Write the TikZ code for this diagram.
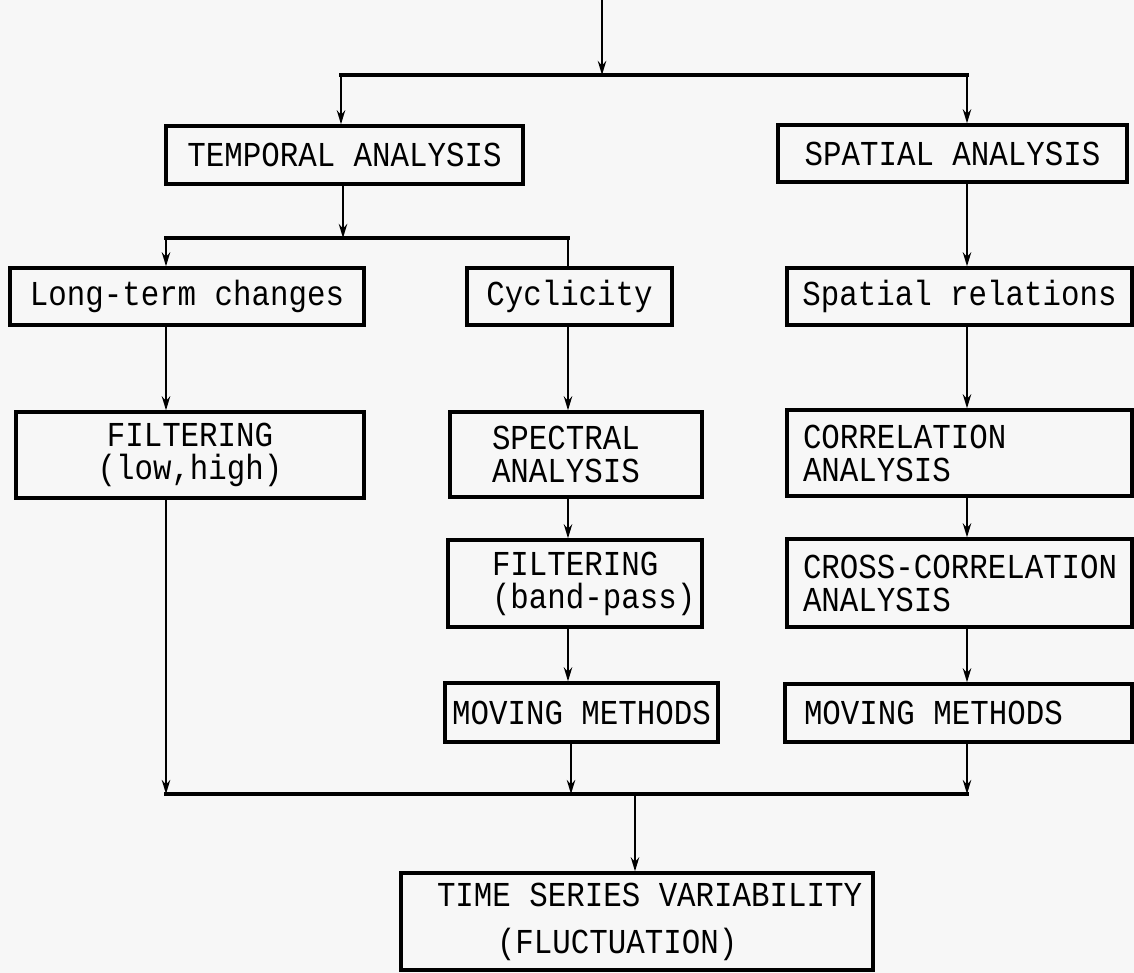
\documentclass[tikz,border=0pt]{standalone}
\usepackage{fontspec}
\setmonofont{Liberation Mono}[FakeStretch=0.88]
\usetikzlibrary{arrows.meta}
\definecolor{paper}{RGB}{247,247,247}
\newcommand\msp{\hphantom{X}}
\tikzset{
  boxnode/.style={draw, line width=1.7pt, inner xsep=0pt, inner ysep=0pt, fill=paper,
    font=\ttfamily\fontsize{17.5}{16.5}\selectfont},
  conn/.style={line width=1.1pt},
  arr/.style={conn, -{Stealth[length=7pt,width=4.2pt]}},
  busline/.style={line width=2.2pt, line cap=rect}
}
\begin{document}
\begin{tikzpicture}[x=0.5pt,y=-0.5pt]
\fill[paper] (0,0) rectangle (1134,973);
\useasboundingbox (0,0) rectangle (1134,973);
% boxes
\node[boxnode, text width=178.5pt, minimum height=29pt, align=center] (temporal) at (344.5,155) {TEMPORAL\msp ANALYSIS};
\node[boxnode, text width=174.5pt, minimum height=28.5pt, align=center] (spatial) at (952.5,153.5) {SPATIAL\msp ANALYSIS};
\node[boxnode, text width=177pt, minimum height=28.5pt, align=center] (longterm) at (187,296.5) {Long-term\msp changes};
\node[boxnode, text width=102.5pt, minimum height=28.5pt, align=center] (cyclic) at (569.5,296.5) {Cyclicity};
\node[boxnode, text width=172.5pt, minimum height=28.5pt, align=center] (spatrel) at (959.5,296.5) {Spatial\msp relations};
\node[boxnode, text width=174pt, minimum height=43pt, align=center] (filt1) at (190,455) {FILTERING\\(low,high)};
\node[boxnode, text width=126pt, minimum height=42.5pt, align=left] (spectral) at (576,454.5) {\hspace*{21pt}SPECTRAL\\\hspace*{21pt}ANALYSIS};
\node[boxnode, text width=172.5pt, minimum height=43pt, align=left] (correl) at (959.5,453) {\hspace*{8pt}CORRELATION\\\hspace*{8pt}ANALYSIS};
\node[boxnode, text width=127pt, minimum height=43.5pt, align=left] (filt2) at (575,583.5) {\hspace*{22pt}FILTERING\\\hspace*{22pt}(band-pass)};
\node[boxnode, text width=172.5pt, minimum height=44pt, align=left] (cross) at (959.5,583) {\hspace*{8pt}CROSS-CORRELATION\\\hspace*{8pt}ANALYSIS};
\node[boxnode, text width=136.5pt, minimum height=29.5pt, align=center] (moving1) at (581.5,712.5) {MOVING\msp METHODS};
\node[boxnode, text width=173.5pt, minimum height=29pt, align=left] (moving2) at (958.5,713) {\hspace*{9.5pt}MOVING\msp METHODS};
\node[boxnode, text width=236pt, minimum height=48.5pt, align=left] (final) at (637,921.5) {\hspace*{18pt}TIME\msp SERIES\msp VARIABILITY\\[7pt]\hspace*{48pt}(FLUCTUATION)};
% junction coordinates
\coordinate (top) at (602,0);
\coordinate (b1) at (602,75);
\coordinate (b1L) at (341,75);
\coordinate (b1R) at (967,75);
\coordinate (b2T) at (343,238);
\coordinate (b2L) at (166,238);
\coordinate (b2R) at (568,238);
\coordinate (b3L) at (166,794);
\coordinate (b3M) at (571,794);
\coordinate (b3R) at (967,794);
\coordinate (b3F) at (635,794);
% buses
\draw[busline] (b1L) -- (b1R);
\draw[busline] (b2L) -- (b2R);
\draw[busline] (b3L) -- (b3R);
% connectors
\draw[arr] (top) -- (b1);
\draw[arr] (b1L) -- (b1L |- temporal.north);
\draw[arr] (b1R) -- (b1R |- spatial.north);
\draw[arr] (b2T |- temporal.south) -- (b2T);
\draw[arr] (b2L) -- (b2L |- longterm.north);
\draw[conn] (b2R) -- (b2R |- cyclic.north);
\draw[arr] (b1R |- spatial.south) -- (b1R |- spatrel.north);
\draw[arr] (b2L |- longterm.south) -- (b2L |- filt1.north);
\draw[arr] (b2R |- cyclic.south) -- (b2R |- spectral.north);
\draw[arr] (b1R |- spatrel.south) -- (b1R |- correl.north);
\draw[arr] (b2R |- spectral.south) -- (b2R |- filt2.north);
\draw[arr] (b1R |- correl.south) -- (b1R |- cross.north);
\draw[arr] (b2R |- filt2.south) -- (b2R |- moving1.north);
\draw[arr] (b1R |- cross.south) -- (b1R |- moving2.north);
\draw[arr] (b2L |- filt1.south) -- (b3L);
\draw[arr] (b3M |- moving1.south) -- (b3M);
\draw[arr] (b1R |- moving2.south) -- (b3R);
\draw[arr] (b3F) -- (b3F |- final.north);
\end{tikzpicture}
\end{document}
